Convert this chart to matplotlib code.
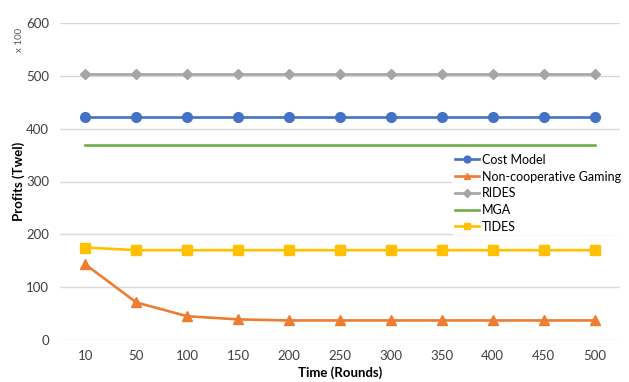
import matplotlib
matplotlib.use("Agg")
import matplotlib.pyplot as plt

plt.rcParams['font.family'] = ['Lato', 'DejaVu Sans']

rounds = ["10", "50", "100", "150", "200", "250", "300", "350", "400", "450", "500"]
cost_model = [423] * 11
non_coop = [143, 71, 45, 39, 37, 37, 37, 37, 37, 37, 37]
rides = [503] * 11
mga = [369] * 11
tides = [175, 170, 170, 170, 170, 170, 170, 170, 170, 170, 170]

fig = plt.figure(figsize=(6.29, 3.82), dpi=100)
ax = fig.add_axes([60/629, 42/382, 560/629, 317/382])

x = list(range(len(rounds)))
lw = 1.9
ax.plot(x, cost_model, color='#4472C4', lw=lw, marker='o', ms=7, label='Cost Model', zorder=3)
ax.plot(x, non_coop, color='#ED7D31', lw=lw, marker='^', ms=7, label='Non-cooperative Gaming', zorder=3)
ax.plot(x, rides, color='#A5A5A5', lw=lw, marker='D', ms=5.5, label='RIDES', zorder=3)
ax.plot(x, mga, color='#70AD47', lw=lw, label='MGA', zorder=3)
ax.plot(x, tides, color='#FFC000', lw=lw, marker='s', ms=6.5, label='TIDES', zorder=3)

ax.set_xlim(-0.5, len(rounds) - 0.5)
ax.set_ylim(0, 600)
ax.set_yticks([0, 100, 200, 300, 400, 500, 600])
ax.set_xticks(x)
ax.set_xticklabels(rounds)
ax.grid(axis='y', color='#D9D9D9', lw=1)
ax.set_axisbelow(True)
for s in ax.spines.values():
    s.set_visible(False)
ax.tick_params(length=0, labelsize=9.5, colors='#404040', pad=8)
ax.tick_params(axis='x', pad=7)

ax.set_xlabel('Time (Rounds)', fontsize=9.5, fontweight='bold', labelpad=3)
ax.set_ylabel('Profits (Twel)', fontsize=9.5, fontweight='bold', labelpad=1)
fig.text(20/629, 1 - 40/382, 'x 100', rotation=90, fontsize=7, color='#595959', ha='center', va='center')

leg = ax.legend(loc='upper left', bbox_to_anchor=(446/629, 1 - 145/382), bbox_transform=fig.transFigure,
                frameon=True, fontsize=9, handlelength=1.9, handletextpad=0.25, labelspacing=0.38,
                borderpad=0.2, markerscale=0.7)
leg.get_frame().set_edgecolor('none')
leg.get_frame().set_facecolor('white')
leg.get_frame().set_alpha(1)

fig.savefig('out.png', dpi=100)
